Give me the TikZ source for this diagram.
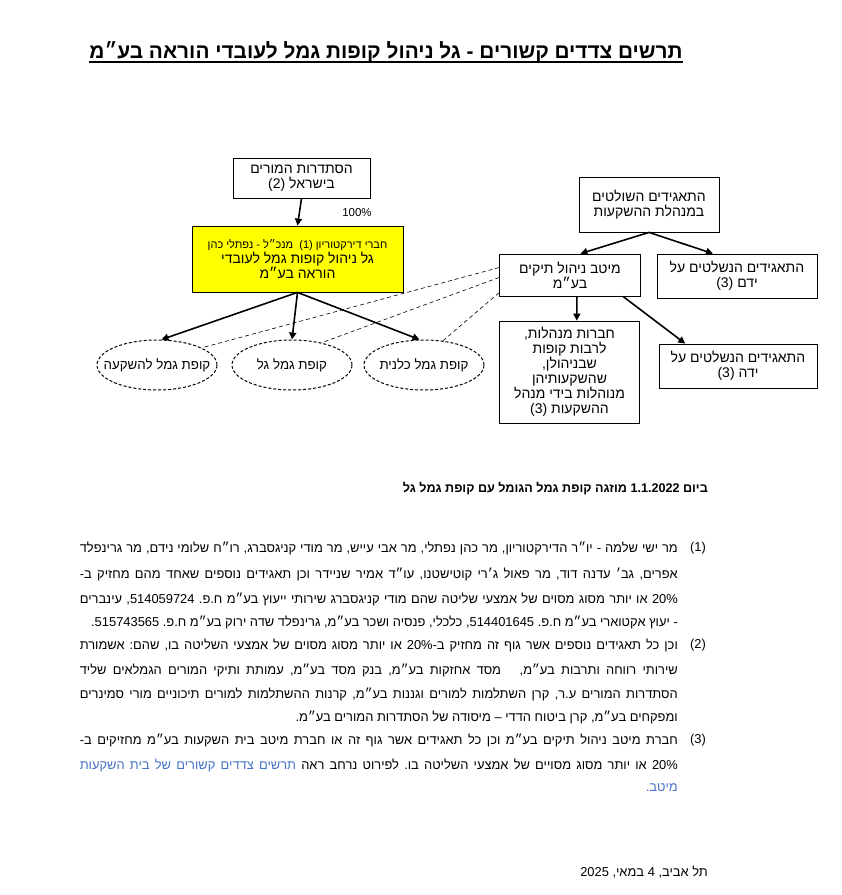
\documentclass[tikz,border=0pt]{standalone}
\usepackage{fontspec}
\setmainfont{Liberation Sans}[Script=Hebrew]
\newfontfamily\bluefont[Script=Hebrew,Color=4472C4]{Liberation Sans}
\usetikzlibrary{shapes.geometric,arrows.meta}
\TeXXeTstate=1
\frenchspacing
\newcommand{\rl}[1]{\beginR#1\endR}
\newcommand{\fundtext}[1]{\makebox[0pt]{\beginR#1\endR}}
\definecolor{galyellow}{RGB}{255,255,0}
\begin{document}
\begin{tikzpicture}[x=1pt,y=-1pt,
  box/.style={draw, line width=0.8pt, align=center, inner sep=1pt, font=\fontsize{14}{15}\selectfont},
  fund/.style={ellipse, draw, dash pattern=on 3pt off 2pt, line width=1pt, minimum width=120pt, minimum height=50pt, inner sep=0pt, font=\fontsize{13.3}{15}\selectfont},
  own/.style={-{Triangle[length=7pt,width=7pt]}, line width=1.6pt},
  rel/.style={dash pattern=on 4pt off 3pt, line width=0.6pt},
  note/.style={anchor=east, inner sep=0pt, font=\fontsize{12.9}{14}\selectfont}]
\fill[white] (0,0) rectangle (842,895);
\useasboundingbox (0,0) rectangle (842,895);
\node[inner sep=0pt, anchor=base, font=\bfseries\fontsize{20.8}{24}\selectfont] (title) at (386,58) {\rl{תרשים צדדים קשורים - גל ניהול קופות גמל לעובדי הוראה בע״מ}};
\draw[line width=1.3pt] ([yshift=-4pt]title.base west) -- ([yshift=-4pt]title.base east);
\node[box, minimum width=137pt, minimum height=40pt] (org) at (301.5,178) {\rl{הסתדרות המורים}\\\rl{בישראל (2)}};
\node[box, fill=galyellow, minimum width=211pt, minimum height=66pt] (gal) at (297.5,259) {{\fontsize{11}{13}\selectfont\rl{חברי דירקטוריון (1)\ \ מנכ״ל - נפתלי כהן}}\\\rl{גל ניהול קופות גמל לעובדי}\\\rl{הוראה בע״מ}};
\node[inner sep=0pt, font=\fontsize{11.5}{13}\selectfont] (pct) at (357,213) {100\%};
\node[box, minimum width=140pt, minimum height=55pt] (ctrl) at (649,204.5) {\rl{התאגידים השולטים}\\\rl{במנהלת ההשקעות}};
\node[box, minimum width=141pt, minimum height=42pt] (meitav) at (570,275) {\rl{מיטב ניהול תיקים}\\\rl{בע״מ}};
\node[box, minimum width=160pt, minimum height=44pt] (subc) at (737,276) {\rl{התאגידים הנשלטים על}\\\rl{ידם (3)}};
\node[box, minimum width=140pt, minimum height=102pt] (mgmt) at (569.5,372) {\rl{חברות מנהלות,}\\\rl{לרבות קופות}\\\rl{שבניהולן,}\\\rl{שהשקעותיהן}\\\rl{מנוהלות בידי מנהל}\\\rl{ההשקעות (3)}};
\node[box, minimum width=158pt, minimum height=44pt] (subd) at (738,366) {\rl{התאגידים הנשלטים על}\\\rl{ידה (3)}};
\node[fund] (ell0) at (157,365) {\fundtext{קופת גמל להשקעה}};
\node[fund] (ell1) at (292,365) {\fundtext{קופת גמל גל}};
\node[fund] (ell2) at (424,365) {\fundtext{קופת גמל כלנית}};
\draw[own] (org.south) -- (gal.north);
\draw[own] (gal.south) -- (ell0.80);
\draw[own] (gal.south) -- (ell1.north);
\draw[own] (gal.south) -- (ell2.100);
\draw[own] (ctrl.south) -- (meitav.64);
\draw[own] (ctrl.south) -- (subc.137);
\draw[own] (meitav.288) -- (mgmt.82);
\draw[own] (meitav.338) -- (subd.157);
\draw[rel] (meitav.174) -- (ell0.21);
\draw[rel] (meitav.182) -- (ell1.37);
\draw[rel] (meitav.194) -- (ell2.52);
\node[inner sep=0pt, anchor=east, font=\bfseries\fontsize{12.6}{14}\selectfont] (merge) at (708,489) {\rl{ביום 1.1.2022 מוזגה קופת גמל הגומל עם קופת גמל גל}};
\node[note] (m1) at (706,548) {(1)};
\node[note] (f1a) at (678,548) {\makebox[598pt][s]{\rl{מר ישי שלמה - יו״ר הדירקטוריון, מר כהן נפתלי, מר אבי עייש, מר מודי קניגסברג, רו״ח שלומי נידם, מר גרינפלד}}};
\node[note] (f1b) at (678,574) {\makebox[598pt][s]{\rl{אפרים, גב׳ עדנה דוד, מר פאול ג׳רי קוטישטנו, עו״ד אמיר שניידר וכן תאגידים נוספים שאחד מהם מחזיק ב-}}};
\node[note] (f1c) at (678,599) {\makebox[598pt][s]{\rl{20\% או יותר מסוג מסוים של אמצעי שליטה שהם מודי קניגסברג שירותי ייעוץ בע״מ ח.פ. 514059724, עינברים}}};
\node[note] (f1d) at (678,622) {\rl{- יעוץ אקטוארי בע״מ ח.פ. 514401645, כלכלי, פנסיה ושכר בע״מ, גרינפלד שדה ירוק בע״מ ח.פ. 515743565.}};
\node[note] (m2) at (706,645) {(2)};
\node[note] (f2a) at (678,645) {\makebox[598pt][s]{\rl{וכן כל תאגידים נוספים אשר גוף זה מחזיק ב-20\% או יותר מסוג מסוים של אמצעי השליטה בו, שהם: אשמורת}}};
\node[note] (f2b) at (678,670) {\makebox[598pt][s]{\rl{שירותי רווחה ותרבות בע״מ,\ \ \ מסד אחזקות בע״מ, בנק מסד בע״מ, עמותת ותיקי המורים הגמלאים שליד}}};
\node[note] (f2c) at (678,694) {\makebox[598pt][s]{\rl{הסתדרות המורים ע.ר, קרן השתלמות למורים וגננות בע״מ, קרנות ההשתלמות למורים תיכוניים מורי סמינרים}}};
\node[note] (f2d) at (678,717) {\rl{ומפקחים בע״מ, קרן ביטוח הדדי – מיסודה של הסתדרות המורים בע״מ.}};
\node[note] (m3) at (706,740) {(3)};
\node[note] (f3a) at (678,740) {\makebox[598pt][s]{\rl{חברת מיטב ניהול תיקים בע״מ וכן כל תאגידים אשר גוף זה או חברת מיטב בית השקעות בע״מ מחזיקים ב-}}};
\node[note] (f3b) at (678,765) {\makebox[598pt][s]{\rl{20\% או יותר מסוג מסויים של אמצעי השליטה בו. לפירוט נרחב ראה {\bluefont תרשים צדדים קשורים של בית השקעות}}}};
\node[note] (f3c) at (678,788) {\rl{\bluefont מיטב.}};
\node[note] (place) at (708,872) {\rl{תל אביב, 4 במאי, 2025}};
\end{tikzpicture}
\end{document}
